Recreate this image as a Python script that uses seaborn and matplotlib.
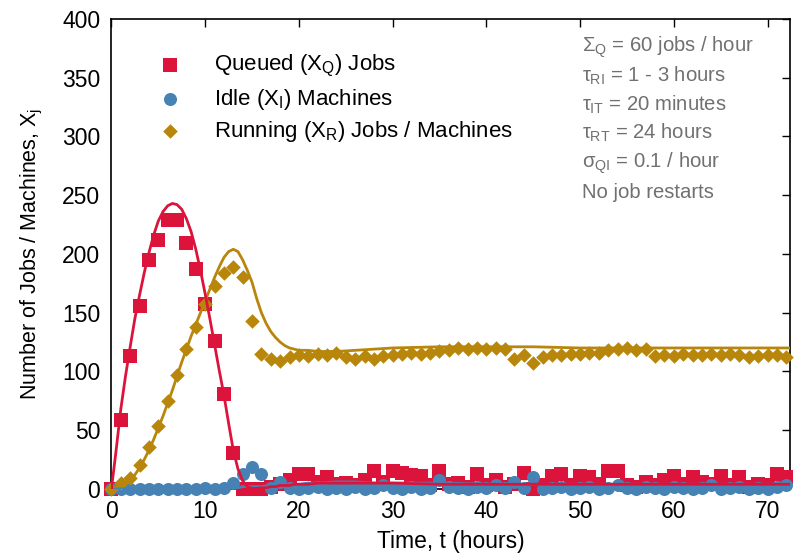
import matplotlib
matplotlib.use("Agg")
import matplotlib.pyplot as plt
import seaborn as sns
import pandas as pd
import numpy as np

#%% data
hours = list(range(0, 73))

queued = [0, 59, 113, 156, 195, 212, 229, 229, 209, 187, 157, 126, 81, 31, 0, 0, 0, 2, 4, 8,
          13, 13, 6, 10, 4, 5, 3, 8, 15, 6, 15, 14, 12, 11, 3, 15, 4, 5, 2, 13,
          3, 8, 2, 4, 14, 0, 3, 11, 13, 3, 11, 10, 4, 15, 15, 3, 2, 6, 3, 8,
          11, 4, 10, 6, 4, 11, 3, 10, 2, 4, 3, 13, 10]

idle = [0, 0, 0, 0, 0, 0, 0, 0, 0, 0, 1, 0, 1, 5, 13, 19, 13, 1, 6, 1,
        0, 1, 2, 0, 1, 0, 2, 0, 1, 3, 1, 0, 2, 0, 1, 8, 2, 1, 0, 2,
        1, 3, 1, 6, 1, 10, 0, 1, 2, 0, 1, 2, 0, 1, 3, 1, 0, 2, 1, 0,
        2, 1, 0, 1, 3, 0, 1, 2, 0, 1, 0, 2, 3]

running = [0, 5, 9, 20, 36, 54, 75, 97, 119, 138, 157, 173, 184, 189, 180, 143, 115, 111, 109, 112,
           114, 113, 115, 114, 116, 112, 111, 113, 111, 113, 114, 115, 116, 115, 116, 117, 118, 120, 119, 120,
           119, 120, 119, 111, 114, 107, 112, 114, 114, 115, 115, 116, 116, 118, 119, 120, 118, 119, 113, 114,
           113, 115, 114, 114, 115, 114, 115, 114, 112, 113, 114, 114, 112]

# model curves
model_t = [0, 0.5, 1, 1.5, 2, 2.5, 3, 3.5, 4, 4.5, 5, 5.5, 6, 6.5, 7, 7.5, 8, 8.5, 9, 9.5,
           10, 10.5, 11, 11.5, 12, 12.5, 13, 13.5, 14, 14.5, 15, 15.5, 16, 16.5, 17, 17.5, 18, 18.5, 19, 19.5,
           20, 21, 22, 24, 26, 28, 30, 35, 40, 45, 50, 55, 60, 65, 70, 72.4]
model_queued = [0, 33, 68, 96, 121, 145, 165, 184, 201, 216, 228, 236, 241, 243, 242, 238, 230, 219, 204, 186,
                166, 145, 123, 101, 80, 56, 33, 17, 7, 2, 0.5, 0.5, 1, 1, 2, 2, 3, 3, 3, 4,
                4, 4, 5, 5, 5, 5, 5, 4, 4, 4, 4, 4, 4, 4, 4, 4]
model_idle = [0, 0, 0, 0, 0, 0, 0, 0, 0, 0, 0, 0, 0, 0, 0, 0, 0, 0, 0, 0,
              0, 0, 0, 0, 0.5, 0.5, 1, 1, 2, 2, 2, 2, 2, 2.5, 3, 3, 3, 3.5, 4, 4,
              4, 5, 5, 6, 6, 5, 5, 5, 4, 4, 4, 4, 4, 4, 4, 4]
model_running = [0, 1, 3, 5, 8, 12, 18, 25, 33, 42, 52, 62, 73, 84, 96, 108, 119, 130, 140, 150,
                 160, 170, 180, 189, 197, 202, 204, 202, 195, 186, 176, 162, 150, 141, 134, 129, 125, 122, 120, 119,
                 118, 118, 117, 117, 118, 119, 120, 121, 121, 121, 120, 120, 120, 120, 120, 120]

notes = [r"$\Sigma_{Q}$ = 60 jobs / hour",
         r"$\tau_{RI}$ = 1 - 3 hours",
         r"$\tau_{IT}$ = 20 minutes",
         r"$\tau_{RT}$ = 24 hours",
         r"$\sigma_{QI}$ = 0.1 / hour",
         "No job restarts"]

red = "#DC143C"
blue = "#4682B4"
gold = "#B8860B"

#%% style
sns.set_theme(style="white")
plt.rcParams["font.family"] = ["Liberation Sans", "DejaVu Sans"]
plt.rcParams["mathtext.fontset"] = "custom"
plt.rcParams["mathtext.rm"] = "Liberation Sans"
plt.rcParams["mathtext.it"] = "Liberation Sans"
plt.rcParams["mathtext.bf"] = "Liberation Sans:bold"
plt.rcParams["text.color"] = "black"
plt.rcParams["axes.labelcolor"] = "black"

df = pd.DataFrame({"t": hours, "q": queued, "i": idle, "r": running})
dm = pd.DataFrame({"t": model_t, "q": model_queued, "i": model_idle, "r": model_running})

#%% plot
fig = plt.figure(figsize=(7.96, 5.58), dpi=100)
ax = fig.add_axes([0.1400, 0.1237, 0.8525, 0.8423])

sns.scatterplot(data=df, x="t", y="q", marker="s", s=110, color=red, linewidth=0,
                clip_on=False, label=r"Queued ($X_{Q}$) Jobs", ax=ax, zorder=3)
sns.scatterplot(data=df, x="t", y="i", marker="o", s=88, color=blue, linewidth=0,
                clip_on=False, label=r"Idle ($X_{I}$) Machines", ax=ax, zorder=4)
sns.scatterplot(data=df, x="t", y="r", marker="D", s=55, color=gold, linewidth=0,
                clip_on=False, label=r"Running ($X_{R}$) Jobs / Machines", ax=ax, zorder=5)

sns.lineplot(data=dm, x="t", y="r", color=gold, lw=2.0, legend=False, ax=ax, zorder=6)
sns.lineplot(data=dm, x="t", y="i", color=blue, lw=2.0, legend=False, ax=ax, zorder=6)
sns.lineplot(data=dm, x="t", y="q", color=red, lw=2.0, legend=False, ax=ax, zorder=7)

ax.set_xlim(0, 72.4)
ax.set_ylim(0, 400)
ax.set_xticks(range(0, 71, 10))
ax.set_yticks(range(0, 401, 50))
ax.tick_params(direction="in", length=6, width=1, top=True, right=True,
               labelsize=16.5, pad=8, colors="black")
for sp in ax.spines.values():
    sp.set_color("black")
    sp.set_linewidth(1.2)

ax.set_xlabel("Time, t (hours)", fontsize=16.5, labelpad=5)
ax.set_ylabel(r"Number of Jobs / Machines, $X_{j}$", fontsize=15.5, labelpad=12)

leg = ax.legend(loc="upper left", bbox_to_anchor=(0.07, 0.927), frameon=False,
                fontsize=16, handlelength=1.0, handletextpad=1.5,
                labelspacing=0.33, borderpad=0, borderaxespad=0, markerscale=1.0)

ny = [0.930, 0.867, 0.805, 0.745, 0.683, 0.619]
for txt, yy in zip(notes, ny):
    ax.text(0.693, yy, txt, transform=ax.transAxes, fontsize=14.6, color="#707070",
            ha="left", va="baseline")

fig.savefig("out.png", dpi=100)
